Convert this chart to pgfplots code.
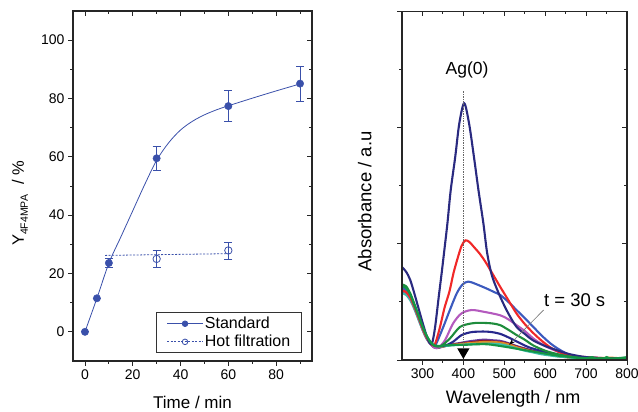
\documentclass[border=0pt]{standalone}
\usepackage{fontspec}
\setmainfont{Liberation Sans}
\usepackage{pgfplots}
\pgfplotsset{compat=1.18}
\usetikzlibrary{arrows.meta}

\definecolor{stdblue}{RGB}{58,80,170}
\definecolor{cnavy}{RGB}{42,42,128}
\definecolor{cred}{RGB}{240,40,40}
\definecolor{cblue}{RGB}{60,90,190}
\definecolor{cmag}{RGB}{180,90,190}
\definecolor{cgreen}{RGB}{30,140,60}
\definecolor{cnavy2}{RGB}{40,40,140}
\definecolor{cpurple}{RGB}{100,60,160}
\definecolor{cdarkred}{RGB}{140,20,40}
\definecolor{corange}{RGB}{220,140,40}
\definecolor{cteal}{RGB}{60,190,170}
\definecolor{cgreenb}{RGB}{20,150,70}

\pgfplotsset{
  panel/.style={
    scale only axis,
    anchor=south west,
    axis line style={line width=1.1pt, black!85},
    major tick length=5pt, minor tick length=3pt,
    every tick/.style={line width=0.9pt, black!85},
    /pgf/number format/assume math mode=true,
    tick label style={font=\fontsize{14}{14}\selectfont},
  },
  mirror/.style={
    tick align=inside, xtick pos=right, ytick pos=right,
    xticklabels={}, yticklabels={},
  },
}

\begin{document}
\begin{tikzpicture}
\path[use as bounding box] (0,0) rectangle (638pt,412pt);

% ---------- left panel ----------
\begin{axis}[panel, at={(73pt,51pt)}, width=239pt, height=350pt,
  xmin=-5, xmax=95, ymin=-10, ymax=110,
  xtick={0,20,...,80}, minor xtick={10,30,50,70,90},
  ytick={0,20,...,100}, minor ytick={10,30,50,70,90},
  tick align=outside, xtick pos=left, ytick pos=left,
  xlabel={Time / min},
  xlabel style={at={(axis description cs:0.5,-0.118)}, anchor=center, font=\fontsize{17}{17}\selectfont},
  ylabel={Y\raisebox{-0.45ex}{\fontsize{10.5}{10.5}\selectfont 4F4MPA}\hspace{0.6em}/ \%},
  ylabel style={at={(axis description cs:-0.222,0.45)}, anchor=center, font=\fontsize{16.5}{16.5}\selectfont},
  legend image code/.code={\draw[mark repeat=2,mark phase=2,#1] plot coordinates {(0pt,0pt)(18pt,0pt)(36pt,0pt)};},
  legend style={at={(0.959,0.022)}, anchor=south east, draw=black!80, line width=0.8pt,
    font=\fontsize{16}{16}\selectfont, row sep=2pt, inner xsep=10pt, inner ysep=3pt,
    nodes={inner sep=1.5pt}},
  legend cell align=left,
]
\addlegendimage{stdblue, line width=0.8pt, mark=*, mark size=2.8pt, mark options={solid}}
\addlegendentry{Standard}
\addlegendimage{stdblue, line width=0.8pt, dash pattern=on 2pt off 1.5pt, mark=o, mark size=2.8pt, mark options={solid, fill=white}}
\addlegendentry{Hot filtration}

% fitted curves
\addplot[stdblue, line width=0.8pt, smooth, tension=0.55, forget plot] coordinates {
 (0,0) (5,11.5) (10,23.5) (15,32.5) (20,41.5) (25,50.5) (30,58.8)
 (35,64.8) (40,69.2) (45,72.2) (50,74.4) (55,76.1) (60,77.5) (70,80.1) (80,82.6) (90,85)};
\addplot[stdblue, line width=0.8pt, dash pattern=on 2pt off 1.5pt, forget plot] coordinates {
 (8.4,26.2) (60,26.8)};

% standard
\addplot[stdblue, only marks, mark=*, mark size=3.7pt, forget plot,
  error bars/.cd, y dir=both, y explicit,
  error bar style={line width=0.8pt, stdblue},
  error mark options={rotate=90, mark size=4pt, line width=0.8pt, stdblue}]
 coordinates {
 (0,0) +- (0,0)
 (5,11.5) +- (0,0)
 (10,23.6) +- (0,1.5)
 (30,59.5) +- (0,4.2)
 (60,77.4) +- (0,5.4)
 (90,85.1) +- (0,6.0)};
% hot filtration
\addplot[stdblue, only marks, mark=o, mark size=3.7pt, mark options={fill=white, line width=0.8pt}, forget plot,
  error bars/.cd, y dir=both, y explicit,
  error bar style={line width=0.8pt, stdblue},
  error mark options={rotate=90, mark size=4pt, line width=0.8pt, stdblue}]
 coordinates {
 (30,25.0) +- (0,2.8)
 (60,27.9) +- (0,2.9)};
\end{axis}
\begin{axis}[panel, mirror, at={(73pt,51pt)}, width=239pt, height=350pt,
  xmin=-5, xmax=95, ymin=-10, ymax=110,
  xtick={0,20,...,80}, minor xtick={10,30,50,70,90},
  ytick={0,20,...,100}, minor ytick={10,30,50,70,90}]
\end{axis}

% ---------- right panel ----------
\begin{axis}[panel, at={(402pt,52pt)}, width=225pt, height=348.5pt,
  xmin=250, xmax=800, ymin=0, ymax=6,
  xtick={300,400,...,800}, minor xtick={350,450,...,750},
  ytick={0,2,4,6}, minor ytick={1,3,5}, yticklabels={},
  tick align=outside, xtick pos=left, ytick pos=left,
  xlabel={Wavelength / nm},
  xlabel style={at={(axis description cs:0.494,-0.112)}, anchor=center, font=\fontsize{18}{18}\selectfont},
  ylabel={Absorbance / a.u},
  ylabel style={at={(axis description cs:-0.165,0.455)}, anchor=center, font=\fontsize{18.5}{18.5}\selectfont},
  every axis plot/.append style={line width=2.1pt, smooth, tension=0.5},
]
\addplot[cpurple] coordinates {(250,1.18)(260,1.15)(270,1.06)(280,0.9)(290,0.72)(300,0.53)(310,0.37)(320,0.27)(330,0.21)(340,0.21)(355,0.24)(370,0.27)(390,0.29)(413,0.32)(449,0.35)(470,0.34)(490,0.33)(510,0.29)(530,0.24)(550,0.2)(571,0.16)(590,0.13)(610,0.1)(630,0.08)(650,0.06)(680,0.05)(700,0.04)(730,0.03)(760,0.03)(800,0.02)};
\addplot[cdarkred] coordinates {(250,1.22)(260,1.18)(270,1.08)(280,0.92)(290,0.74)(300,0.55)(310,0.38)(320,0.28)(330,0.22)(340,0.22)(355,0.24)(370,0.26)(390,0.28)(413,0.3)(449,0.33)(470,0.32)(490,0.31)(510,0.28)(530,0.23)(550,0.19)(571,0.15)(590,0.12)(610,0.09)(630,0.07)(650,0.05)(680,0.04)(700,0.04)(730,0.03)(760,0.03)(800,0.02)};
\addplot[corange] coordinates {(250,1.2)(260,1.17)(270,1.07)(280,0.91)(290,0.73)(300,0.54)(310,0.38)(320,0.28)(330,0.22)(340,0.22)(355,0.24)(370,0.26)(390,0.27)(413,0.29)(449,0.31)(470,0.31)(490,0.3)(510,0.27)(530,0.22)(550,0.18)(571,0.14)(590,0.11)(610,0.09)(630,0.07)(650,0.05)(680,0.04)(700,0.03)(730,0.03)(760,0.04)(800,0.02)};
\addplot[cteal] coordinates {(250,1.15)(260,1.12)(270,1.03)(280,0.88)(290,0.7)(300,0.52)(310,0.37)(320,0.27)(330,0.22)(340,0.23)(355,0.24)(370,0.25)(390,0.26)(413,0.27)(449,0.28)(470,0.28)(490,0.27)(510,0.24)(530,0.2)(550,0.16)(571,0.13)(590,0.1)(610,0.08)(630,0.06)(650,0.05)(680,0.03)(700,0.03)(730,0.02)(760,0.03)(800,0.02)};
\addplot[cnavy2] coordinates {(250,1.24)(260,1.2)(270,1.1)(280,0.93)(290,0.75)(300,0.56)(310,0.39)(320,0.28)(330,0.22)(340,0.23)(360,0.26)(376,0.32)(396,0.43)(420,0.48)(449,0.49)(470,0.48)(490,0.45)(510,0.39)(530,0.32)(560,0.22)(600,0.14)(650,0.07)(700,0.04)(750,0.03)(800,0.02)};
\addplot[cmag] coordinates {(250,1.2)(260,1.17)(270,1.07)(280,0.91)(290,0.73)(300,0.54)(310,0.38)(320,0.27)(330,0.21)(340,0.22)(355,0.34)(375,0.63)(395,0.8)(420,0.86)(450,0.83)(490,0.77)(510,0.7)(530,0.6)(550,0.5)(571,0.37)(590,0.28)(612,0.2)(640,0.12)(670,0.07)(700,0.04)(750,0.03)(800,0.02)};
\addplot[cblue] coordinates {(250,1.25)(260,1.2)(270,1.1)(280,0.94)(290,0.75)(300,0.56)(310,0.4)(320,0.29)(330,0.25)(335,0.3)(351,0.57)(367,0.86)(384,1.15)(398,1.3)(412,1.35)(430,1.31)(457,1.23)(475,1.17)(490,1.12)(510,1.0)(530,0.86)(550,0.72)(571,0.57)(590,0.43)(612,0.29)(630,0.2)(653,0.11)(675,0.06)(693,0.04)(720,0.03)(800,0.02)};
\addplot[cred] coordinates {(250,1.2)(260,1.17)(270,1.08)(280,0.92)(290,0.74)(300,0.55)(310,0.39)(320,0.28)(328,0.25)(333,0.32)(343,0.57)(354,0.9)(366,1.18)(376,1.5)(388,1.8)(396,1.97)(405,2.06)(415,2.03)(424,1.96)(440,1.83)(453,1.7)(470,1.5)(490,1.26)(510,1.03)(530,0.8)(550,0.62)(570,0.47)(590,0.34)(612,0.22)(630,0.15)(652,0.09)(680,0.06)(700,0.05)(750,0.03)(800,0.02)};
\addplot[cnavy] coordinates {(250,1.6)(260,1.52)(270,1.38)(280,1.15)(290,0.9)(300,0.65)(310,0.42)(318,0.29)(324,0.3)(331,0.57)(340,1.1)(347,1.5)(352,1.8)(361,2.35)(369,2.92)(380,3.49)(390,4.07)(402,4.42)(414,4.07)(426,3.49)(437,2.92)(449,2.35)(458,1.85)(470,1.45)(490,1.09)(510,0.8)(530,0.57)(550,0.45)(570,0.34)(600,0.24)(628,0.17)(660,0.1)(700,0.05)(750,0.03)(800,0.02)};
\addplot[cgreen] coordinates {(250,1.3)(260,1.27)(270,1.15)(280,0.97)(290,0.78)(300,0.58)(310,0.42)(320,0.3)(330,0.24)(345,0.24)(367,0.37)(392,0.57)(420,0.63)(441,0.64)(470,0.63)(490,0.6)(510,0.52)(530,0.43)(550,0.35)(571,0.25)(600,0.16)(630,0.1)(660,0.06)(700,0.03)(750,0.03)(800,0.02)};
\addplot[cgreenb] coordinates {(250,1.27)(260,1.24)(270,1.13)(280,0.95)(290,0.77)(300,0.58)(310,0.42)(320,0.31)(330,0.25)(340,0.24)(355,0.25)(380,0.26)(400,0.26)(430,0.27)(460,0.27)(500,0.23)(525,0.2)(550,0.17)(575,0.14)(600,0.11)(625,0.08)(650,0.06)(675,0.04)(700,0.03)(715,0.05)(725,0.02)(740,0.01)(750,0.05)(760,0.02)(775,0.03)(790,0.04)(800,0.05)};

% annotations
\addplot[black!60, line width=0.7pt, densely dotted, sharp plot] coordinates {(400,0) (400,4.65)};
\addplot[black, only marks, mark=triangle*, mark size=5pt, mark options={rotate=180}] coordinates {(400,0.14)};
\addplot[black!55, line width=0.6pt, sharp plot, -{Stealth[black, length=6pt, width=4pt]}] coordinates {(596,0.86) (512,0.26)};
\node[font=\fontsize{17.5}{17.5}\selectfont] at (axis cs:409,5.0) {Ag(0)};
\node[font=\fontsize{18.5}{18.5}\selectfont] at (axis cs:672,1.03) {t = 30 s};
\end{axis}
\begin{axis}[panel, mirror, at={(402pt,52pt)}, width=225pt, height=348.5pt,
  xmin=250, xmax=800, ymin=0, ymax=6,
  xtick={300,400,...,800}, minor xtick={350,450,...,750},
  ytick={0,2,4,6}, minor ytick={1,3,5}]
\end{axis}
\end{tikzpicture}
\end{document}
